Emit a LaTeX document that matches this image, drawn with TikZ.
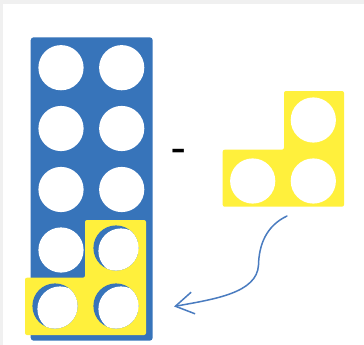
\documentclass[tikz,border=0pt]{standalone}
\usetikzlibrary{arrows.meta}
\definecolor{plateblue}{RGB}{55,116,186}
\definecolor{piecey}{RGB}{255,240,60}
\definecolor{arrowblue}{RGB}{74,124,192}
\definecolor{bggray}{RGB}{240,240,240}
\begin{document}
\begin{tikzpicture}[x=1pt,y=-1pt,
  plate/.style={fill=plateblue,rounded corners=3pt},
  piece/.style={fill=piecey,rounded corners=2pt},
  hole/.style={fill=white},
  movearrow/.style={draw=arrowblue,line width=1.5pt,line cap=round,
    -{Straight Barb[length=18pt,width=22pt,line width=1.5pt]}}]
\useasboundingbox (0,0) rectangle (364,345);
\fill[bggray] (0,0) rectangle (364,345);
\fill[white] (3,4) rectangle (364,345);
% blue ten-plate
\fill[plate] (30.7,37.3) rectangle (152.7,340.7);
\foreach \cy in {67.7,128.5,189.5,250,311}
  \foreach \cx in {61,121.7}
    \fill[hole] (\cx,\cy) circle[radius=22.6pt];
% yellow three-piece on the plate
\fill[piece] (85,220) -- (146,220) -- (146,335) -- (25,335) -- (25,277.7) -- (85,277.7) -- cycle;
\foreach \cx/\cy in {116/248,55/306,116/306}{
  \begin{scope}
    \clip (\cx,\cy) circle[radius=22.6pt];
    \fill[plateblue] (\cx,\cy) circle[radius=23pt];
    \fill[white] (\cx+5,\cy+3) circle[radius=22.6pt];
  \end{scope}
}
% minus sign
\node[inner sep=0pt,font=\fontsize{38}{40}\selectfont\bfseries] (minus) at (179.5,154.5) {-};
% separate yellow three-piece
\fill[piece] (284,91) -- (344,91) -- (344,206.7) -- (222.7,206.7) -- (222.7,149.7) -- (284,149.7) -- cycle;
\foreach \cx/\cy in {313.3/120,252.7/181,313.3/181}
  \fill[hole] (\cx,\cy) circle[radius=22.6pt];
% arrow
\coordinate (start) at (287,216);
\coordinate (target) at (174,306.5);
\draw[movearrow] (start) .. controls (266,226) and (259,245) .. (258.5,265)
  .. controls (257,293) and (215,299) .. (target);
\end{tikzpicture}
\end{document}
